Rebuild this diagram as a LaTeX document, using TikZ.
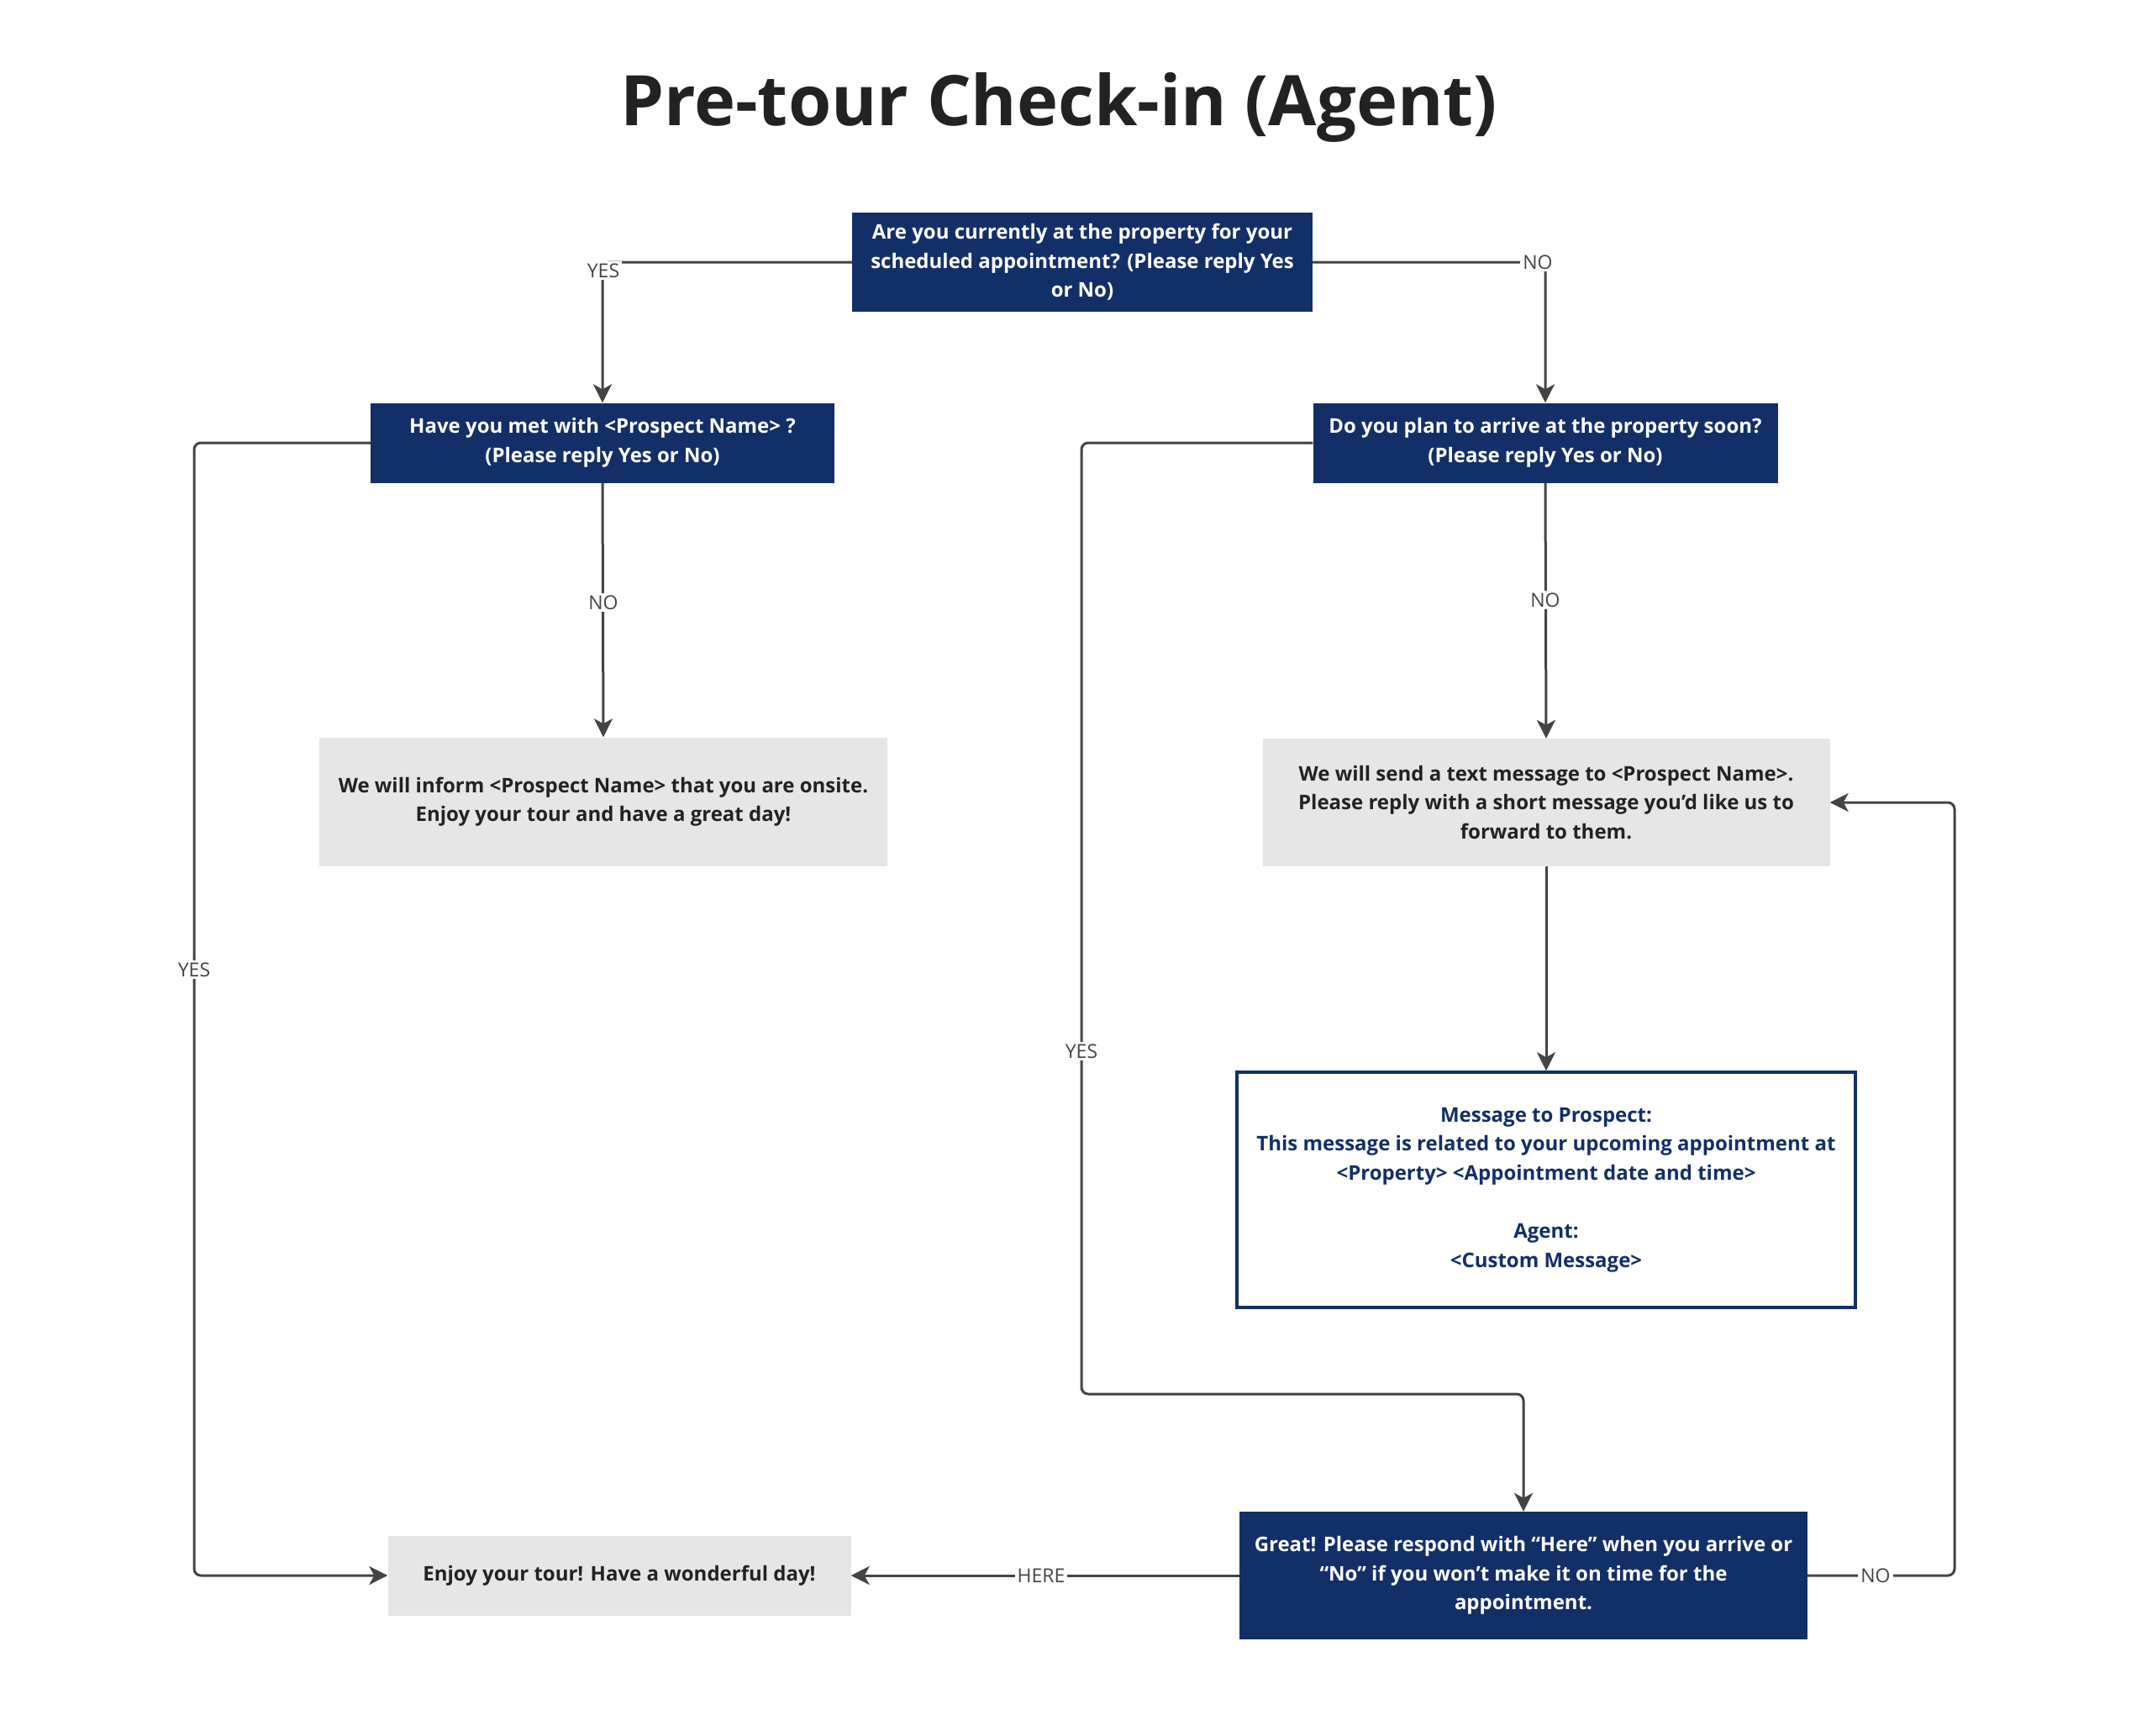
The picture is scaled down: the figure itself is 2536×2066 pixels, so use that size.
\documentclass[tikz,border=0pt]{standalone}
\usepackage{fontspec}
\setmainfont{Open Sans}
\usetikzlibrary{arrows.meta}
\definecolor{navy}{RGB}{19,47,104}
\definecolor{greyfill}{RGB}{230,230,230}
\definecolor{darktext}{RGB}{34,34,34}
\definecolor{linegrey}{RGB}{68,68,68}
\begin{document}
\begin{tikzpicture}[x=1pt,y=-1pt,
  base/.style={align=center,inner sep=0pt,font=\bfseries\fontsize{24}{34.6}\selectfont},
  navybox/.style={base,fill=navy,text=white},
  greybox/.style={base,fill=greyfill,text=darktext},
  msgbox/.style={base,draw=navy,line width=3.5pt,text=navy,fill=white},
  conn/.style={draw=linegrey,line width=3pt,rounded corners=8pt},
  arr/.style={conn,-{Stealth[length=22pt,width=22pt,inset=6pt]}},
  lbl/.style={fill=white,inner sep=3pt,text=linegrey,font=\fontsize{23}{26}\selectfont}]
\useasboundingbox (0,0) rectangle (2536,2066);
\node[font=\bfseries\fontsize{83}{100}\selectfont,text=darktext] (title) at (1260,128) {Pre-tour Check-in (Agent)};

\node[navybox,minimum width=548pt,minimum height=118pt] (q0) at (1288,312)
  {Are you currently at the property for your\\scheduled appointment? (Please reply Yes\\or No)};
\node[navybox,minimum width=552pt,minimum height=95pt] (q1) at (717,527)
  {Have you met with <Prospect Name> ?\\(Please reply Yes or No)};
\node[navybox,minimum width=553pt,minimum height=95pt] (q2) at (1839,527)
  {Do you plan to arrive at the property soon?\\(Please reply Yes or No)};
\node[greybox,minimum width=676pt,minimum height=153pt] (g1) at (718,954)
  {We will inform <Prospect Name> that you are onsite.\\Enjoy your tour and have a great day!};
\node[greybox,minimum width=675pt,minimum height=152pt] (g2) at (1840,955)
  {We will send a text message to <Prospect Name>.\\Please reply with a short message you’d like us to\\forward to them.};
\node[msgbox,minimum width=736pt,minimum height=280pt] (msg) at (1840,1416)
  {Message to Prospect:\\This message is related to your upcoming appointment at\\<Property> <Appointment date and time>\\[34.6pt]Agent:\\<Custom Message>};
\node[navybox,minimum width=676pt,minimum height=152pt] (great) at (1813,1875)
  {Great! Please respond with “Here” when you arrive or\\“No” if you won’t make it on time for the\\appointment.};
\node[greybox,minimum width=551pt,minimum height=95pt] (enjoy) at (737,1875)
  {Enjoy your tour! Have a wonderful day!};

\coordinate (cl) at (231,527);
\coordinate (cr) at (1287,527);
\coordinate (cb) at (1287,1659);
\coordinate (cnr) at (2326,1875);

\draw[arr] (q0.west) -| (q1.north);
\draw[arr] (q0.east) -| (q2.north);
\draw[arr] (q1.south) -- (g1.north);
\draw[arr] (q2.south) -- (g2.north);
\draw[arr] (g2.south) -- (msg.north);
\draw[arr] (q1.west) -- (cl) |- (enjoy.west);
\draw[arr] (q2.west) -- (cr) -- (cb) -| (great.north);
\draw[arr] (great.west) -- (enjoy.east);
\draw[arr] (great.east) -- (cnr) |- (g2.east);

\node[lbl] (l1) at (718,322) {YES};
\node[lbl] (l2) at (1830,312) {NO};
\node[lbl] (l3) at (718,717) {NO};
\node[lbl] (l4) at (1839,714) {NO};
\node[lbl] (l5) at (231,1154) {YES};
\node[lbl] (l6) at (1287,1251) {YES};
\node[lbl] (l7) at (1239,1875) {HERE};
\node[lbl] (l8) at (2232,1875) {NO};
\end{tikzpicture}
\end{document}
